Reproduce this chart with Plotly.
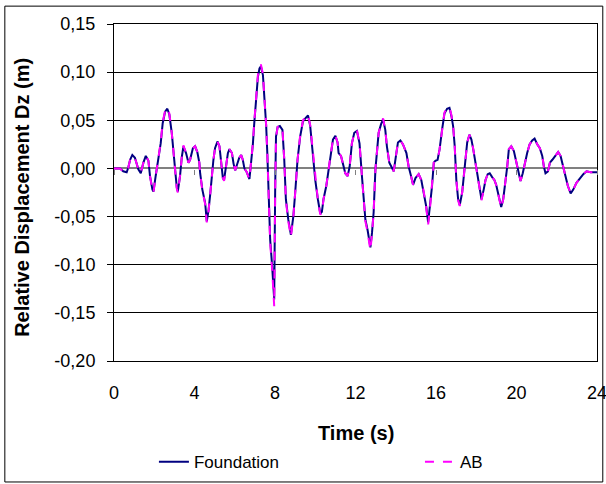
import plotly.graph_objects as go

time_s = [
    0.0, 0.3, 0.46, 0.63, 0.71, 0.8, 0.91, 1.04, 1.21, 1.33, 1.46, 1.58, 1.71, 1.79, 1.91, 1.96,
    2.07, 2.2, 2.32, 2.42, 2.54, 2.65, 2.75, 2.87, 2.95, 3.03, 3.12, 3.17, 3.28, 3.37, 3.45, 3.58,
    3.7, 3.78, 3.92, 4.03, 4.14, 4.24, 4.28, 4.39, 4.53, 4.61, 4.7, 4.78, 4.86, 4.94, 5.02, 5.14,
    5.24, 5.32, 5.41, 5.47, 5.57, 5.66, 5.74, 5.86, 5.94, 6.02, 6.1, 6.22, 6.32, 6.4, 6.48, 6.6,
    6.73, 6.82, 6.9, 6.97, 7.07, 7.15, 7.23, 7.3, 7.4, 7.47, 7.56, 7.62, 7.68, 7.76, 7.86, 7.91,
    7.96, 8.01, 8.05, 8.13, 8.24, 8.37, 8.46, 8.54, 8.66, 8.79, 8.91, 9.0, 9.12, 9.25, 9.39, 9.55,
    9.64, 9.75, 9.87, 10.0, 10.13, 10.25, 10.33, 10.41, 10.55, 10.66, 10.78, 10.88, 11.0, 11.11,
    11.16, 11.28, 11.41, 11.49, 11.61, 11.71, 11.82, 11.94, 12.07, 12.2, 12.32, 12.4, 12.49, 12.6,
    12.7, 12.74, 12.82, 12.9, 12.99, 13.07, 13.15, 13.27, 13.37, 13.48, 13.56, 13.68, 13.78, 13.9,
    14.01, 14.11, 14.23, 14.36, 14.53, 14.64, 14.76, 14.86, 14.98, 15.14, 15.27, 15.39, 15.51,
    15.61, 15.72, 15.8, 15.89, 15.97, 16.08, 16.18, 16.3, 16.42, 16.55, 16.67, 16.77, 16.85, 16.93,
    17.01, 17.1, 17.18, 17.3, 17.38, 17.46, 17.55, 17.66, 17.76, 17.85, 17.96, 18.08, 18.18, 18.26,
    18.37, 18.46, 18.57, 18.67, 18.79, 18.9, 18.99, 19.12, 19.24, 19.34, 19.45, 19.54, 19.62, 19.74,
    19.87, 20.0, 20.11, 20.2, 20.31, 20.41, 20.53, 20.65, 20.78, 20.9, 21.03, 21.16, 21.28, 21.36,
    21.44, 21.56, 21.66, 21.78, 21.94, 22.07, 22.19, 22.32, 22.44, 22.55, 22.69, 22.82, 22.98,
    23.15, 23.32, 23.48, 23.68, 24.0,
]

foundation = [
    0.000, 0.000, -0.003, -0.004, 0.001, 0.009, 0.014, 0.011, -0.001, -0.005, 0.006, 0.013, 0.008, -0.008, -0.022, -0.024,
    -0.008, 0.009, 0.026, 0.047, 0.059, 0.062, 0.056, 0.037, 0.016, 0.000, -0.020, -0.024, -0.008, 0.012, 0.023, 0.016,
    0.006, 0.009, 0.021, 0.023, 0.017, 0.006, -0.005, -0.022, -0.036, -0.055, -0.043, -0.027, -0.004, 0.009, 0.021, 0.028,
    0.023, 0.006, -0.010, -0.012, 0.003, 0.016, 0.020, 0.016, 0.005, -0.002, 0.003, 0.011, 0.014, 0.009, 0.000, -0.004,
    -0.011, 0.006, 0.025, 0.047, 0.075, 0.095, 0.104, 0.106, 0.097, 0.078, 0.045, 0.015, -0.025, -0.074, -0.102, -0.127,
    -0.136, -0.019, 0.033, 0.043, 0.044, 0.040, 0.009, -0.032, -0.053, -0.069, -0.050, -0.026, 0.009, 0.033, 0.049, 0.053,
    0.055, 0.044, 0.018, -0.012, -0.032, -0.047, -0.045, -0.032, -0.018, -0.001, 0.016, 0.030, 0.034, 0.027,
    0.016, 0.013, 0.002, -0.005, -0.008, 0.002, 0.026, 0.037, 0.039, 0.026, -0.008, -0.032, -0.053, -0.064,
    -0.078, -0.082, -0.067, -0.046, -0.001, 0.023, 0.037, 0.046, 0.051, 0.040, 0.023, 0.006, 0.002, -0.003,
    0.013, 0.027, 0.029, 0.025, 0.016, 0.002, -0.008, -0.017, -0.010, -0.006, -0.012, -0.024, -0.039,
    -0.056, -0.036, -0.019, 0.006, 0.008, 0.009, 0.020, 0.040, 0.057, 0.062, 0.063, 0.054, 0.044, 0.023,
    -0.012, -0.032, -0.038, -0.025, -0.007, 0.013, 0.027, 0.035, 0.030, 0.020, 0.006, -0.012, -0.025, -0.032,
    -0.022, -0.012, -0.006, -0.005, -0.009, -0.012, -0.017, -0.030, -0.040, -0.032, -0.015, 0.002, 0.020, 0.023,
    0.018, 0.006, -0.005, -0.013, -0.005, 0.006, 0.016, 0.025, 0.029, 0.031, 0.025, 0.021, 0.013, 0.002,
    -0.005, -0.003, 0.006, 0.009, 0.013, 0.017, 0.013, 0.002, -0.010, -0.018, -0.026, -0.022, -0.015,
    -0.010, -0.006, -0.003, -0.004, -0.004,
]

ab = [
    0.000, 0.000, -0.003, -0.004, 0.001, 0.009, 0.013, 0.011, -0.001, -0.005, 0.006, 0.013, 0.008, -0.008, -0.023, -0.025,
    -0.008, 0.009, 0.027, 0.048, 0.060, 0.063, 0.057, 0.037, 0.016, 0.000, -0.021, -0.025, -0.008, 0.012, 0.024, 0.016,
    0.006, 0.009, 0.021, 0.023, 0.017, 0.006, -0.005, -0.023, -0.037, -0.056, -0.044, -0.027, -0.004, 0.009, 0.021, 0.028,
    0.023, 0.006, -0.010, -0.013, 0.003, 0.016, 0.020, 0.016, 0.005, -0.002, 0.003, 0.011, 0.014, 0.009, 0.000, -0.004,
    -0.011, 0.006, 0.026, 0.048, 0.077, 0.097, 0.105, 0.108, 0.098, 0.078, 0.045, 0.014, -0.027, -0.077, -0.106, -0.133,
    -0.143, -0.022, 0.032, 0.043, 0.045, 0.041, 0.009, -0.033, -0.055, -0.071, -0.051, -0.026, 0.009, 0.034, 0.050, 0.054,
    0.056, 0.045, 0.018, -0.012, -0.033, -0.048, -0.046, -0.032, -0.018, -0.001, 0.016, 0.030, 0.034, 0.027,
    0.016, 0.013, 0.002, -0.005, -0.008, 0.002, 0.026, 0.037, 0.040, 0.026, -0.008, -0.033, -0.055, -0.066,
    -0.080, -0.085, -0.068, -0.046, -0.001, 0.023, 0.037, 0.046, 0.052, 0.040, 0.023, 0.006, 0.002, -0.003,
    0.013, 0.027, 0.029, 0.025, 0.016, 0.002, -0.008, -0.017, -0.010, -0.006, -0.012, -0.024, -0.040,
    -0.058, -0.037, -0.019, 0.006, 0.008, 0.009, 0.020, 0.041, 0.058, 0.063, 0.064, 0.055, 0.044, 0.023,
    -0.012, -0.033, -0.039, -0.025, -0.007, 0.013, 0.027, 0.035, 0.030, 0.020, 0.006, -0.012, -0.025, -0.033,
    -0.022, -0.012, -0.006, -0.005, -0.009, -0.012, -0.017, -0.030, -0.041, -0.032, -0.015, 0.002, 0.020, 0.023,
    0.018, 0.006, -0.005, -0.013, -0.005, 0.006, 0.016, 0.025, 0.029, 0.031, 0.025, 0.021, 0.013, 0.002,
    -0.005, -0.003, 0.006, 0.009, 0.013, 0.017, 0.013, 0.002, -0.010, -0.018, -0.026, -0.022, -0.015,
    -0.010, -0.006, -0.003, -0.004, -0.004,
]

x_ticks = [0, 4, 8, 12, 16, 20, 24]
y_ticks = [0.15, 0.10, 0.05, 0.00, -0.05, -0.10, -0.15, -0.20]
y_tick_labels = ["0,15", "0,10", "0,05", "0,00", "-0,05", "-0,10", "-0,15", "-0,20"]

FONT = "Liberation Sans, Arial, sans-serif"

fig = go.Figure()
fig.add_trace(go.Scatter(
    x=time_s, y=foundation, name="Foundation", mode="lines", legend="legend",
    line={"color": "#000080", "width": 2},
))
fig.add_trace(go.Scatter(
    x=time_s, y=ab, name="AB", mode="lines", legend="legend2",
    line={"color": "#FF00FF", "width": 2, "dash": "dash"},
))
# invisible trace so the small tick marks on the zero line get drawn
fig.add_trace(go.Scatter(
    x=[x_ticks[0]], y=[0], xaxis="x2", mode="lines", showlegend=False,
    hoverinfo="skip", line={"color": "rgba(0,0,0,0)"},
))

legend_style = {
    "orientation": "h", "xref": "container", "xanchor": "left",
    "yref": "container", "y": 0.045, "yanchor": "middle",
    "font": {"size": 17}, "bgcolor": "rgba(0,0,0,0)",
}

fig.update_layout(
    width=606, height=484,
    margin={"l": 114, "r": 9, "t": 24, "b": 123, "autoexpand": False},
    paper_bgcolor="white", plot_bgcolor="white",
    font={"family": FONT, "size": 18, "color": "black"},
    showlegend=True,
    legend={**legend_style, "x": 0.254},
    legend2={**legend_style, "x": 0.693},
    xaxis={
        "range": [0, 24], "tickvals": x_ticks, "ticks": "", "showgrid": False,
        "showline": True, "mirror": True, "linecolor": "black", "linewidth": 1,
        "zeroline": False, "ticklabelstandoff": 15, "tickfont": {"size": 18},
        "ticklabeloverflow": "allow", "automargin": False,
    },
    xaxis2={
        "range": [0, 24], "tickvals": x_ticks, "overlaying": "x", "anchor": "free",
        "position": 0.571, "side": "bottom", "ticks": "outside", "ticklen": 5,
        "tickcolor": "#808080", "showticklabels": False, "showgrid": False,
        "showline": False, "zeroline": False, "automargin": False,
    },
    yaxis={
        "range": [-0.20, 0.15], "tickvals": y_ticks, "ticktext": y_tick_labels,
        "ticks": "outside", "ticklen": 6, "tickcolor": "black",
        "showgrid": True, "gridcolor": "black", "gridwidth": 1,
        "zeroline": True, "zerolinecolor": "#808080", "zerolinewidth": 2,
        "showline": True, "mirror": True, "linecolor": "black", "linewidth": 1,
        "ticklabelstandoff": 8, "tickfont": {"size": 18}, "automargin": False,
    },
    annotations=[
        {"text": "<b>Relative Displacement Dz (m)</b>", "textangle": -90,
         "xref": "paper", "yref": "paper", "x": -0.1905, "y": 0.487,
         "xanchor": "center", "yanchor": "middle", "showarrow": False,
         "font": {"size": 20}},
        {"text": "<b>Time (s)</b>", "xref": "paper", "yref": "paper",
         "x": 0.502, "y": -0.213, "xanchor": "center", "yanchor": "middle",
         "showarrow": False, "font": {"size": 20}},
    ],
)

fig.add_shape(
    type="rect", xref="paper", yref="paper",
    x0=-0.226, x1=1.012, y0=-0.359, y1=1.053,
    line={"color": "black", "width": 1}, fillcolor="rgba(0,0,0,0)",
)

# the page body has a default 8px margin; drop it so the figure sits at the window's corner
fig.write_html(
    "out.html",
    config={"displayModeBar": False},
    post_script="document.body.style.margin='0px';",
)
